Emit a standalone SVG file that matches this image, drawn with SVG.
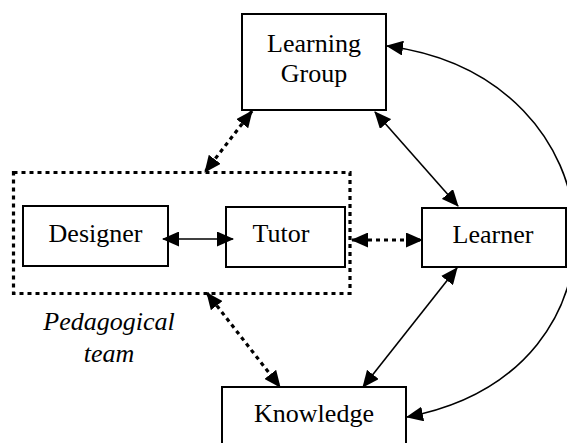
<svg xmlns="http://www.w3.org/2000/svg" width="567" height="443" viewBox="0 0 567 443">
<style>
.box{fill:#fff;stroke:#000;stroke-width:2}
.lbl{font-size:26px;fill:#000;text-anchor:middle}
.it{font-style:italic}
.solid{fill:none;stroke:#000;stroke-width:1.6;marker-start:url(#ah);marker-end:url(#ah)}
.dot{fill:none;stroke:#000;stroke-width:3.2;stroke-dasharray:4 4;marker-start:url(#ah);marker-end:url(#ah)}
.team{fill:none;stroke:#000;stroke-width:3.2;stroke-dasharray:4 4}
</style>
<defs>
<marker id="ah" markerUnits="userSpaceOnUse" markerWidth="17" markerHeight="15" viewBox="0 0 17 15" refX="16" refY="7.5" orient="auto-start-reverse">
<path d="M0,0 L17,7.5 L0,15 z" fill="#000"/>
</marker>
</defs>
<rect width="567" height="443" fill="#fff"/>
<g font-family="Liberation Serif, DejaVu Serif, Times New Roman, serif">
<g id="team">
<rect class="team" x="13.5" y="172.5" width="336.5" height="121"/>
<text class="lbl it" x="109" y="330">Pedagogical</text>
<text class="lbl it" x="109" y="362">team</text>
</g>
<g id="learning-group">
<rect class="box" x="242" y="14" width="144" height="96"/>
<text class="lbl" x="314" y="52">Learning</text>
<text class="lbl" x="314" y="82">Group</text>
</g>
<g id="designer">
<rect class="box" x="23" y="206" width="145" height="60"/>
<text class="lbl" x="95.5" y="242">Designer</text>
</g>
<g id="tutor">
<rect class="box" x="226" y="207" width="119" height="60"/>
<text class="lbl" x="281" y="242">Tutor</text>
</g>
<g id="learner">
<rect class="box" x="422" y="208" width="144" height="59"/>
<text class="lbl" x="493" y="243">Learner</text>
</g>
<g id="knowledge">
<rect class="box" x="222" y="387" width="184" height="70"/>
<text class="lbl" x="314" y="422">Knowledge</text>
</g>
</g>
<g id="connectors">
<line class="solid" x1="163" y1="239" x2="233" y2="239"/>
<line class="dot" x1="352" y1="240" x2="422" y2="240"/>
<line class="dot" x1="252" y1="111" x2="205" y2="172"/>
<line class="dot" x1="207" y1="293" x2="280" y2="387"/>
<line class="solid" x1="375" y1="112" x2="458" y2="206"/>
<line class="solid" x1="457" y1="268" x2="363" y2="387"/>
<path class="solid" d="M387,46 C624,77 644,372 407,417"/>
</g>
</svg>
